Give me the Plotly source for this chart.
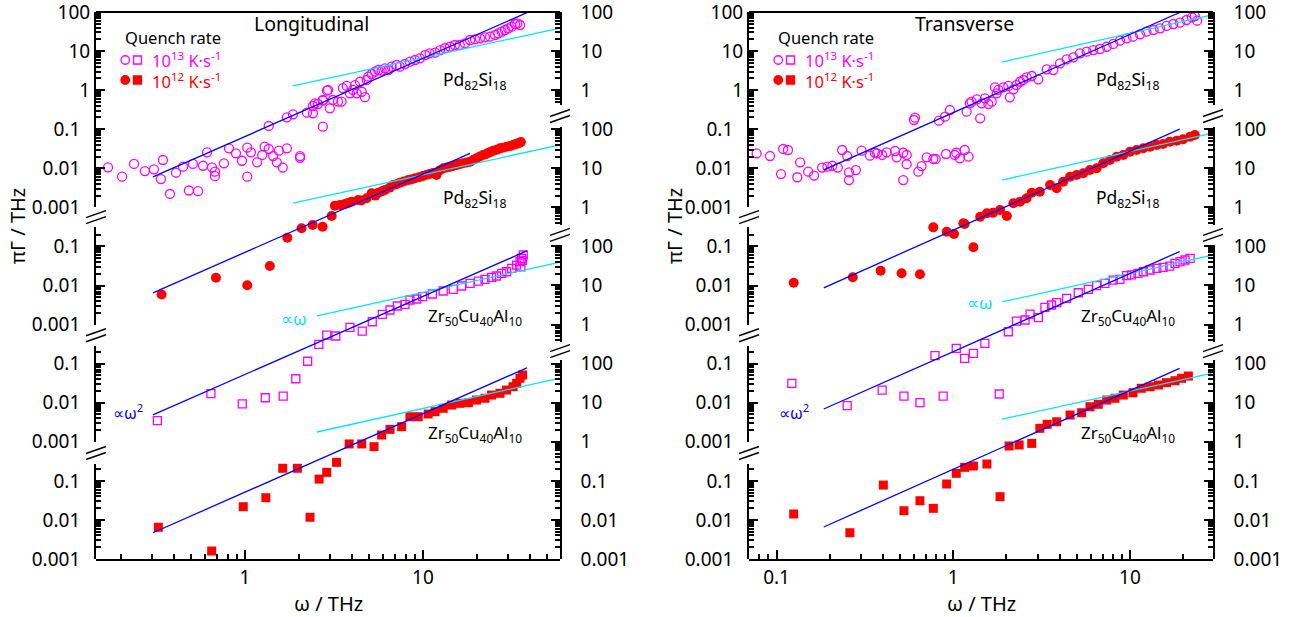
import math
import plotly.graph_objects as go

# ---------------- data: Longitudinal panel ----------------
L_pd13_w = [0.170, 0.204, 0.238, 0.274, 0.308, 0.337, 0.346, 0.379, 0.410, 0.449, 0.484, 0.510, 0.545, 0.581, 0.612,
            0.653, 0.678, 0.678, 0.762, 0.813, 0.890, 0.962, 1.03, 1.03, 1.08, 1.17, 1.25, 1.29, 1.36, 1.44, 1.51,
            1.55, 1.63, 1.72, 2.04, 2.04,
            1.36, 1.72, 1.86, 2.23, 2.41, 2.41, 2.57, 2.74, 2.74, 2.89, 3.0,
            2.47, 2.74, 2.93, 3.12, 3.33, 3.49, 3.55, 3.73, 3.89, 4.04, 4.15, 4.24, 4.43, 4.53, 4.72, 4.83, 4.93, 5.15,
            5.37, 5.61, 5.86, 6.12, 6.39, 6.67, 7.11, 7.42, 7.92, 8.45, 9.02, 9.62, 10.3, 10.9, 11.7, 12.5, 13.3, 14.2,
            15.1, 16.1, 17.2, 18.4, 19.6, 20.9, 22.3, 23.8, 25.4, 26.5, 27.7, 28.9, 30.1, 31.5, 32.9, 33.9, 35.1]
L_pd13_g = [0.0106, 0.0061, 0.0129, 0.0085, 0.0094, 0.0053, 0.0163, 0.0022, 0.0077, 0.011, 0.0027, 0.0129, 0.0026,
            0.0116, 0.0256, 0.0106, 0.0082, 0.0063, 0.0134, 0.0325, 0.0241, 0.0156, 0.0061, 0.0336, 0.0256, 0.0142,
            0.0219, 0.0357, 0.0312, 0.0206, 0.0142, 0.0282, 0.0104, 0.0325, 0.0185, 0.0205,
            0.121, 0.202, 0.241, 0.265, 0.255, 0.393, 0.442, 0.537, 0.116, 0.97, 0.343,
            0.46, 0.56, 1.01, 0.56, 0.51, 0.51, 1.13, 1.28, 0.83, 1.01, 1.35, 0.83, 1.64, 0.91, 0.66, 1.82, 2.21, 2.59,
            2.97, 3.28, 3.15, 3.62, 3.28, 3.98, 4.4, 3.98, 4.67, 5.35, 5.9, 6.53, 7.93, 8.77, 9.08, 10.6, 11.8, 12.9,
            14.3, 14.3, 15.8, 19.2, 20, 21.2, 22.5, 23.3, 25.8, 28.5, 31.3, 34.6, 38.3, 42.1, 49.3, 51.4, 46.5]

L_pd12_w = [0.340, 0.687, 1.03, 1.38, 1.73, 2.08, 2.40, 2.73, 3.07, 3.2, 3.42, 3.65, 3.8, 3.97, 4.33, 4.5, 4.83, 5.15,
            5.4, 5.61, 5.9, 6.12, 6.5, 6.81, 7.1, 7.42, 7.8, 8.27, 8.6, 9.02, 9.5, 10.0, 10.5, 10.9, 11.4, 11.9, 12.4,
            13.0, 13.6, 14.2, 14.8, 15.5, 16.1, 16.8, 17.6, 18.4, 19.2, 20.0, 20.9, 21.8, 22.6, 23.3, 24.0, 24.8, 26.0,
            27.1, 28.0, 29.5, 30.8, 32.1, 33.3, 34.3, 35.0, 35.5]
L_pd12_g = [0.0059, 0.0158, 0.0101, 0.0316, 0.167, 0.291, 0.353, 0.32, 0.60, 1.1, 1.15, 1.22, 1.3, 1.40, 1.54, 1.5,
            1.71, 2.29, 2.0, 2.37, 2.6, 2.78, 3.2, 3.73, 3.9, 4.28, 4.6, 5.01, 5.2, 5.54, 5.9, 6.34, 6.8, 7.14, 7.6,
            6.73, 8.8, 9.98, 10.5, 11, 11.5, 12.1, 12.8, 13.4, 14, 14.7, 16.5, 18, 20, 21.9, 23, 25.1, 26, 28.2, 30,
            32.5, 33.5, 35.7, 37, 39.4, 42, 43.6, 45, 47]

L_zr13_w = [0.322, 0.644, 0.966, 1.30, 1.64, 1.93, 2.25, 2.60, 2.88, 3.24, 3.89, 4.56, 5.19, 5.91, 6.53, 7.17, 7.92,
            8.45, 9.22, 9.96, 11.3, 13.0, 14.8, 16.5, 18.4, 20.5, 22.3, 24.3, 25.9, 27.7, 29.5, 31.5, 33.6, 35.1,
            35.8, 36.6, 36.2, 35.5]
L_zr13_g = [0.0035, 0.017, 0.0093, 0.0134, 0.0148, 0.0411, 0.115, 0.313, 0.54, 0.51, 0.85, 0.68, 1.18, 1.83, 2.36,
            2.99, 3.30, 4.25, 4.51, 5.17, 6.06, 7.23, 8.0, 9.7, 11.4, 13.0, 14.4, 16.2, 17.5, 20.5, 22.5, 27.5, 33.4,
            40.6, 49.6, 60.3, 44, 30]

L_zr12_w = [0.326, 0.650, 0.978, 1.31, 1.63, 1.97, 2.32, 2.61, 2.88, 3.27, 3.85, 4.53, 5.31, 5.86, 6.53, 7.59, 8.45,
            9.41, 10.7, 11.7, 13.0, 14.5, 16.1, 18.0, 20.0, 22.3, 24.3, 27.1, 29.5, 32.1, 33.6, 35.1, 36.3]
L_zr12_g = [0.0065, 0.0016, 0.0218, 0.037, 0.21, 0.21, 0.0117, 0.111, 0.165, 0.298, 0.88, 0.88, 0.75, 1.49, 2.08,
            2.43, 4.38, 4.38, 5.14, 5.89, 7.19, 8.74, 9.66, 10, 11.7, 13, 15.7, 17.4, 21.1, 25.7, 31.4, 42.1, 51.2]

# guide lines (end points) : proportional to omega^2 (blue) and omega (cyan)
L_w2_lo = [0.304, 0.304, 0.304, 0.304]
L_w2_hi = [38.4, 18.4, 38.4, 38.4]
L_g2_lo = [0.006, 0.0065, 0.0049, 0.0047]
L_g2_hi = [96, 24, 77, 78]
L_w1_lo = [1.86, 1.86, 2.54, 2.54]
L_w1_hi = [58.0, 58.0, 58.0, 58.0]
L_g1_lo = [1.28, 1.29, 1.66, 1.78]
L_g1_hi = [38.3, 39.0, 39.2, 42.0]

# ---------------- data: Transverse panel ----------------
R_pd13_w = [0.0771, 0.0918, 0.106, 0.109, 0.116, 0.131, 0.136, 0.151, 0.163, 0.181, 0.194, 0.207, 0.222, 0.235, 0.251,
            0.257, 0.257, 0.281, 0.303, 0.338, 0.360, 0.371, 0.396, 0.420, 0.468, 0.478, 0.521, 0.521, 0.545, 0.545,
            0.634, 0.662, 0.707, 0.771, 0.795, 0.910, 1.02, 1.04, 1.09, 1.16, 1.22,
            0.599, 0.607, 0.830, 0.898, 0.957, 1.19, 1.24, 1.27, 1.36, 1.42, 1.45, 1.51, 1.58, 1.65, 1.72, 1.76, 1.80,
            1.92, 2.05, 2.09, 2.19, 2.28, 2.39, 2.49, 2.60, 2.78, 3.03, 3.38, 3.68, 4.02, 4.38, 4.78, 5.21, 5.69, 6.20,
            6.76, 7.38, 8.04, 8.78, 9.57, 10.4, 11.4, 12.4, 13.6, 14.8, 16.1, 17.6, 19.2, 20.9, 22.4, 23.3, 24.0]
R_pd13_g = [0.0241, 0.0206, 0.0071, 0.0312, 0.0294, 0.0059, 0.0142, 0.0082, 0.0065, 0.0104, 0.011, 0.0116, 0.0104,
            0.0294, 0.0206, 0.0079, 0.005, 0.009, 0.0282, 0.021, 0.025, 0.0241, 0.0219, 0.0256, 0.0277, 0.0191, 0.005,
            0.025, 0.0219, 0.0127, 0.0082, 0.0114, 0.0191, 0.0173, 0.0173, 0.0232, 0.0219, 0.025, 0.018, 0.0294, 0.0198,
            0.172, 0.197, 0.165, 0.209, 0.31, 0.281, 0.46, 0.506, 0.583, 0.19, 0.46, 0.618, 0.442, 0.506, 1.18, 0.83,
            1.01, 1.18, 1.28, 0.656, 1.05, 1.35, 1.64, 1.82, 2.13, 2.30, 1.89, 3.41, 3.28, 4.86, 6.15, 6.93, 8.77, 9.64,
            10.6, 11.3, 12.9, 15.2, 18.4, 21.2, 23.3, 26.9, 31.3, 34.6, 38.3, 43.9, 49.3, 53.2, 62.4, 73.1, 79, 59.8]

R_pd12_w = [0.125, 0.270, 0.388, 0.510, 0.648, 0.771, 0.918, 1.01, 1.16, 1.14, 1.30, 1.42, 1.55, 1.68, 1.84, 2.01,
            2.19, 2.39, 2.60, 2.78, 3.09, 3.53, 3.85, 4.19, 4.58, 4.99, 5.44, 5.94, 6.48, 7.06, 7.71, 8.41, 9.17, 10.0,
            10.9, 11.9, 13.0, 14.2, 15.4, 16.8, 18.4, 20.0, 21.9, 23.3]
R_pd12_g = [0.0118, 0.0162, 0.0239, 0.0205, 0.0194, 0.308, 0.238, 0.208, 0.375, 0.391, 0.095, 0.577, 0.705, 0.73,
            0.855, 0.60, 1.27, 1.40, 1.71, 2.37, 2.52, 3.73, 3.07, 4.54, 6.1, 6.73, 7.43, 9.03, 10, 13.4, 16.3, 19.8,
            21.9, 26.5, 29.4, 32.5, 35.7, 39.4, 41.8, 47.9, 50.8, 55.2, 64.3, 71.1]

R_zr13_w = [0.122, 0.251, 0.396, 0.526, 0.648, 0.877, 0.788, 1.04, 1.16, 1.30, 1.51, 1.82, 2.05, 2.28, 2.55, 2.72,
            3.03, 3.30, 3.60, 3.85, 4.38, 5.10, 5.81, 6.48, 7.22, 8.04, 8.78, 9.57, 10.2, 11.1, 11.9, 13.0, 14.2, 15.4,
            16.8, 18.0, 19.2, 20.5, 21.9]
R_zr13_g = [0.0314, 0.0084, 0.0211, 0.0148, 0.01, 0.0148, 0.16, 0.247, 0.137, 0.184, 0.331, 0.0167, 0.656, 1.23, 1.31,
            1.86, 1.50, 2.77, 3.17, 3.63, 4.70, 6.53, 8.0, 9.9, 11.4, 13.8, 14.4, 17.8, 18.6, 20.5, 22.5, 24.9, 27.5,
            29.2, 31.5, 37, 40.6, 44.9, 49.6]

R_zr12_w = [0.125, 0.260, 0.402, 0.526, 0.648, 0.771, 0.918, 1.04, 1.16, 1.30, 1.55, 1.84, 2.07, 2.36, 2.78, 3.09,
            3.40, 3.85, 4.58, 5.33, 5.94, 6.62, 7.38, 8.22, 9.17, 10.4, 11.6, 13.0, 14.5, 16.1, 18.0, 19.6, 21.4]
R_zr12_g = [0.0142, 0.0047, 0.078, 0.0172, 0.031, 0.0198, 0.083, 0.156, 0.222, 0.24, 0.27, 0.0393, 0.78, 0.83, 0.91,
            2.21, 2.8, 3.26, 4.84, 5.54, 7.9, 9.1, 11.7, 13, 15.7, 18, 23.4, 25.7, 28.4, 32.5, 36.6, 42.2, 48.2]

R_w2_lo = [0.185, 0.185, 0.185, 0.185]
R_w2_hi = [19.1, 19.1, 19.1, 19.1]
R_g2_lo = [0.0091, 0.0087, 0.0069, 0.0066]
R_g2_hi = [97, 100, 74, 76]
R_w1_lo = [1.89, 1.89, 1.89, 1.89]
R_w1_hi = [29.3, 29.3, 29.3, 29.3]
R_g1_lo = [5.25, 5.0, 3.8, 3.8]
R_g1_hi = [84, 79, 60, 57]

# tick labels
TICK_TEXT = {-3: "0.001", -2: "0.01", -1: "0.1", 0: "1", 1: "10", 2: "100"}
X_TICKS_L = [1, 10]
X_TICKS_R = [0.1, 1, 10]
X_TICK_TEXT_L = ["1", "10"]
X_TICK_TEXT_R = ["0.1", "1", "10"]
MINOR_X = [2, 3, 4, 5, 6, 7, 8, 9]
MINOR_Y = [2, 3, 4, 5, 6, 7, 8, 9]

# ---------------- styling / geometry ----------------
MAGENTA, RED, BLUE, CYAN = "#FF00FF", "#FF0000", "#0000FF", "#00E5FF"
FONT = "Noto Sans, Open Sans, sans-serif"
NBSP = "\u00a0"
W, H = 1299, 617
ML, MR, MT, MB = 96, 86, 12, 58
PW, PH = W - ML - MR, H - MT - MB
G_TOP, N_DEC, SHIFT = 2, 14, 3   # decade at top of frame, decades in frame, decades between stacked blocks


def fx(p):
    return (p - ML) / PW


def fy(p):
    return (MT + PH - p) / PH


def gf(G):
    return (G - (G_TOP - N_DEC)) / N_DEC


STY = {
    "c13": dict(symbol="circle-open", size=9, color=MAGENTA, line=dict(width=1.3, color=MAGENTA)),
    "c12": dict(symbol="circle", size=10, color=RED, line=dict(width=0)),
    "s13": dict(symbol="square-open", size=8, color=MAGENTA, line=dict(width=1.3, color=MAGENTA)),
    "s12": dict(symbol="square", size=9, color=RED, line=dict(width=0)),
}

SEG_L = [(-3, 2), (-3, -0.5), (-3, -0.55), (-3, -0.57)]
SEG_R = [(-0.38, 2), (-0.45, 2.06), (-0.45, 2.04), (-3, 2.09)]

PANELS = [
    dict(xdom=[0, fx(560)], xrange=[-0.837, 1.770], xt=X_TICKS_L, xtt=X_TICK_TEXT_L,
         data=[(L_pd13_w, L_pd13_g, "c13"), (L_pd12_w, L_pd12_g, "c12"),
               (L_zr13_w, L_zr13_g, "s13"), (L_zr12_w, L_zr12_g, "s12")],
         l2=(L_w2_lo, L_w2_hi, L_g2_lo, L_g2_hi), l1=(L_w1_lo, L_w1_hi, L_g1_lo, L_g1_hi)),
    dict(xdom=[fx(749), 1], xrange=[-1.156, 1.470], xt=X_TICKS_R, xtt=X_TICK_TEXT_R,
         data=[(R_pd13_w, R_pd13_g, "c13"), (R_pd12_w, R_pd12_g, "c12"),
               (R_zr13_w, R_zr13_g, "s13"), (R_zr12_w, R_zr12_g, "s12")],
         l2=(R_w2_lo, R_w2_hi, R_g2_lo, R_g2_hi), l1=(R_w1_lo, R_w1_hi, R_g1_lo, R_g1_hi)),
]

fig = go.Figure()
layout = {}
shapes = []
axis_font = dict(family=FONT, size=19, color="black")
counter = {"y": 0, "x": 0}


def new_axis(kind):
    counter[kind] += 1
    i = counter[kind]
    name = kind if i == 1 else f"{kind}{i}"
    key = f"{kind}axis" if i == 1 else f"{kind}axis{i}"
    return name, key


def tick_style(vals, texts, length, labels):
    d = dict(showline=False, ticks="inside", ticklen=length, tickwidth=1.5, tickcolor="black",
             tickmode="array", tickvals=vals, showgrid=False, zeroline=False, automargin=False)
    if labels:
        d.update(ticktext=texts, showticklabels=True, tickfont=axis_font, ticklabeloverflow="allow")
    else:
        d.update(showticklabels=False)
    return d


def label_for(e, side):
    t = TICK_TEXT[e]
    if side == "left" and e < 0:
        t = t + NBSP * 2
    if side == "right":
        t = NBSP * 3 + t
    return t


for p, P in enumerate(PANELS):
    xn, xk = new_axis("x")
    data_axes = []
    for k in range(4):
        yn, yk = new_axis("y")
        data_axes.append(yn)
        ax = dict(type="log", range=[G_TOP - N_DEC + SHIFT * k, G_TOP + SHIFT * k], domain=[0, 1],
                  anchor=xn, visible=False, showgrid=False, zeroline=False, automargin=False)
        if k > 0:
            ax["overlaying"] = data_axes[0]
        layout[yk] = ax
    # main x axis (major ticks + labels + bottom line)
    xa = tick_style(P["xt"], P["xtt"], 9, True)
    xa.update(type="log", domain=P["xdom"], range=P["xrange"], anchor=data_axes[0], showline=True,
              linewidth=2, linecolor="black")
    layout[xk] = xa
    # minor x ticks on an overlaid axis
    xmn, xmk = new_axis("x")
    xm = tick_style([m * 10 ** e for e in range(-2, 2) for m in MINOR_X], None, 5, False)
    xm.update(type="log", range=P["xrange"], anchor=data_axes[0], overlaying=xn, side="bottom")
    layout[xmk] = xm
    fig.add_trace(go.Scatter(x=[None], y=[None], xaxis=xmn, yaxis=data_axes[0], showlegend=False,
                             hoverinfo="skip"))
    # markers
    for k, (w, g, s) in enumerate(P["data"]):
        fig.add_trace(go.Scatter(x=w, y=g, mode="markers", marker=STY[s], xaxis=xn, yaxis=data_axes[k],
                                 showlegend=False, hoverinfo="skip"))
    # guide lines
    for (wl, wh, gl, gh), col in ((P["l1"], CYAN), (P["l2"], BLUE)):
        for k in range(4):
            fig.add_trace(go.Scatter(x=[wl[k], wh[k]], y=[gl[k], gh[k]], mode="lines",
                                     line=dict(color=col, width=1.3), xaxis=xn, yaxis=data_axes[k],
                                     showlegend=False, hoverinfo="skip"))
    # broken y axes: one major-tick axis and one minor-tick axis per segment
    for side, segs in (("left", SEG_L), ("right", SEG_R)):
        prev_bottom = None
        xc = P["xdom"][0] if side == "left" else P["xdom"][1]
        for k, (lo, hi) in enumerate(segs):
            G0, G1 = lo - SHIFT * k, hi - SHIFT * k
            dom = [gf(G0), gf(G1)]
            majors = [e for e in range(-3, 3) if lo - 1e-6 <= e <= hi + 1e-6]
            minors = [m * 10 ** e for e in range(-4, 3) for m in MINOR_Y if lo <= e + math.log10(m) <= hi]
            for vals, texts, length, labels in (([10 ** e for e in majors], [label_for(e, side) for e in majors], 9, True),
                                                (minors, None, 5, False)):
                yn, yk = new_axis("y")
                ya = tick_style(vals, texts, length, labels)
                ya.update(type="log", domain=dom, range=[lo - 1e-4, hi + 1e-4], anchor=xn, side=side)
                if labels:
                    ya.update(showline=True, linewidth=2, linecolor="black")
                layout[yk] = ya
                fig.add_trace(go.Scatter(x=[None], y=[None], xaxis=xn, yaxis=yn, showlegend=False,
                                         hoverinfo="skip"))
            # break marks between segments
            if prev_bottom is not None:
                yc = gf((prev_bottom + G1) / 2)
                dx, dy = 10 / PW, 3.5 / PH
                for off in (-3 / PH, 3 / PH):
                    shapes.append(dict(type="line", xref="paper", yref="paper", x0=xc - dx, x1=xc + dx,
                                       y0=yc - dy + off, y1=yc + dy + off, line=dict(color="black", width=1.5)))
            prev_bottom = G0
    # top frame
    shapes.append(dict(type="line", xref="paper", yref="paper", x0=P["xdom"][0], x1=P["xdom"][1], y0=1, y1=1,
                       line=dict(color="black", width=2)))

# ---------------- annotations ----------------
ann = []


def text(xp, yp, t, size=16, color="black", anchor="center", angle=0):
    ann.append(dict(x=fx(xp), y=fy(yp), xref="paper", yref="paper", text=t, showarrow=False, xanchor=anchor,
                    yanchor="middle", textangle=angle, font=dict(family=FONT, size=size, color=color)))


PD = "Pd<sub>82</sub>Si<sub>18</sub>"
ZR = "Zr<sub>50</sub>Cu<sub>40</sub>Al<sub>10</sub>"
LEGEND_TXT = (f"<span style='color:{MAGENTA}'>10<sup>13</sup> K·s<sup>-1</sup></span><br>"
              f"<span style='color:{RED}'>10<sup>12</sup> K·s<sup>-1</sup></span>")
for dxp in (0, 653):
    text(172.5 + dxp, 37, "Quench rate", 16.5)
    ann.append(dict(x=fx(150 + dxp), y=fy(70), xref="paper", yref="paper", text=LEGEND_TXT, showarrow=False,
                    xanchor="left", yanchor="middle", align="left",
                    font=dict(family=FONT, size=16.5, color=MAGENTA)))
    for cy, col, fill in ((60, MAGENTA, "rgba(0,0,0,0)"), (80, RED, RED)):
        shapes.append(dict(type="circle", xref="paper", yref="paper", x0=fx(121 + dxp), x1=fx(129.5 + dxp),
                           y0=fy(cy + 4.25), y1=fy(cy - 4.25), line=dict(color=col, width=1.3), fillcolor=fill))
        shapes.append(dict(type="rect", xref="paper", yref="paper", x0=fx(133.5 + dxp), x1=fx(141.5 + dxp),
                           y0=fy(cy + 4), y1=fy(cy - 4), line=dict(color=col, width=1.3), fillcolor=fill))
    text(475 + dxp, 80, PD, 17.5)
    text(475 + dxp, 198, PD, 17.5)
    text(475 + dxp, 317, ZR, 17)
    text(475 + dxp, 433, ZR, 17)
    text(328 + dxp, 603, "ω / THz", 20)
    text(17 + dxp + (4 if dxp else 0), 226, "πΓ / THz", 20, angle=-90)

text(311.5, 23, "Longitudinal", 19.5)
text(964, 23, "Transverse", 19.5)
text(293.5, 318, "∝ω", 17, CYAN)
text(980, 303, "∝ω", 17, CYAN)
text(127.5, 412, "∝ω<sup>2</sup>", 16, BLUE)
text(794, 412, "∝ω<sup>2</sup>", 16, BLUE)

layout.update(template="none", width=W, height=H, margin=dict(l=ML, r=MR, t=MT, b=MB, autoexpand=False),
              paper_bgcolor="white", plot_bgcolor="rgba(0,0,0,0)", showlegend=False, shapes=shapes,
              annotations=ann, font=dict(family=FONT, color="black"))
fig.update_layout(**layout)
fig.write_html("out.html")
